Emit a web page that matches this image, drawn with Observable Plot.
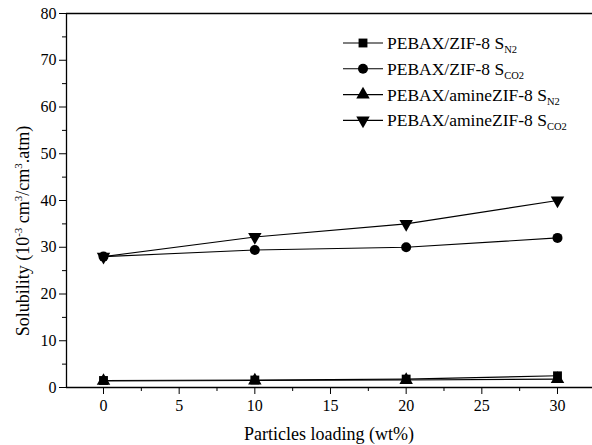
<!DOCTYPE html>
<html>
<head>
<meta charset="utf-8">
<script src="https://cdn.jsdelivr.net/npm/d3@7"></script>
<script src="https://cdn.jsdelivr.net/npm/@observablehq/plot@0.6"></script>
<style>
  body { margin: 0; background: #fff; font-family: "Liberation Serif", serif; }
  svg, svg text, svg tspan { font-family: "Liberation Serif", serif !important; }
</style>
</head>
<body>
<div id="chart"></div>
<script>
const loading = [0, 10, 20, 30];
const zifN2 = [1.5, 1.6, 1.8, 2.5];
const zifCO2 = [28, 29.4, 30, 32];
const amineN2 = [1.4, 1.5, 1.6, 1.8];
const amineCO2 = [28, 32.2, 35, 40];
const seriesNames = ["PEBAX/ZIF-8 S|N2", "PEBAX/ZIF-8 S|CO2", "PEBAX/amineZIF-8 S|N2", "PEBAX/amineZIF-8 S|CO2"];
const symbols = ["square", "circle", "triangle", "triangle"];
const rotations = [0, 0, 0, 180];
const xMajor = [0, 5, 10, 15, 20, 25, 30];
const xMinor = [2.5, 7.5, 12.5, 17.5, 22.5, 27.5];
const yMajor = [0, 10, 20, 30, 40, 50, 60, 70, 80];
const yMinor = [5, 15, 25, 35, 45, 55, 65, 75];
const xDomain = [-2.445, 32.313];
const yDomain = [0, 80];
const xTitle = "Particles loading (wt%)";
// y title pieces: [text, isSuperscript]
const yTitleParts = [["Solubility (10", false], ["-3", true], [" cm", false], ["3", true], ["/cm", false], ["3", true], [".atm)", false]];

const allValues = [zifN2, zifCO2, amineN2, amineCO2];
const data = [];
allValues.forEach((vals, si) => {
  vals.forEach((v, i) => data.push({x: loading[i], y: v, s: si, symbol: symbols[si], rotate: rotations[si]}));
});

const ff = "Liberation Serif, serif";

const plot = Plot.plot({
  width: 592,
  height: 445,
  marginLeft: 66,
  marginRight: 0,
  marginTop: 13,
  marginBottom: 58,
  style: {background: "white", color: "black", fontFamily: ff},
  x: {domain: xDomain},
  y: {domain: yDomain},
  symbol: {type: "identity"},
  marks: [
    Plot.ruleX([xDomain[0]], {stroke: "black", strokeWidth: 1.3}),
    Plot.ruleY([yDomain[0]], {stroke: "black", strokeWidth: 1.3}),
    Plot.ruleY([yDomain[1]], {stroke: "black", strokeWidth: 1.3}),
    Plot.axisX({ticks: xMajor, tickSize: 7, tickPadding: 5, fontSize: 16, tickFormat: d => d, label: null}),
    Plot.axisX({ticks: xMinor, tickSize: 4, text: null, label: null}),
    Plot.axisY({ticks: yMajor, tickSize: 7, tickPadding: 3, fontSize: 16, tickFormat: d => d, label: null}),
    Plot.axisY({ticks: yMinor, tickSize: 4, text: null, label: null}),
    Plot.line(data, {x: "x", y: "y", z: "s", stroke: "black", strokeWidth: 1.1}),
    Plot.dot(data, {x: "x", y: "y", symbol: "symbol", rotate: "rotate", r: 5, fill: "black", stroke: "none"})
  ]
});

const svg = d3.select(plot);
svg.attr("font-family", ff);
// axis titles
svg.append("text").attr("x", 329).attr("y", 440).attr("text-anchor", "middle")
  .attr("font-size", 18).attr("fill", "black").text(xTitle);
const yt = svg.append("text").attr("transform", "translate(23,231) rotate(-90)").attr("dy", "0.35em").attr("text-anchor", "middle")
  .attr("font-size", 18).attr("fill", "black");
let shifted = false;
yTitleParts.forEach(([txt, sup]) => {
  const ts = yt.append("tspan").text(txt);
  if (sup) { ts.attr("font-size", 11).attr("dy", -7); shifted = true; }
  else if (shifted) { ts.attr("dy", 7); shifted = false; }
});

const leg = svg.append("g").attr("font-size", 17.5).attr("fill", "black").attr("text-anchor", "start");
seriesNames.forEach((name, i) => {
  const y = 43 + i * 25.8;
  const g = leg.append("g").attr("transform", `translate(0,${y})`);
  g.append("line").attr("x1", 343).attr("x2", 383).attr("y1", 0).attr("y2", 0).attr("stroke", "black").attr("stroke-width", 1.1);
  const type = symbols[i] === "square" ? d3.symbolSquare : symbols[i] === "circle" ? d3.symbolCircle : d3.symbolTriangle;
  g.append("path").attr("d", d3.symbol(type, Math.PI * 25)()).attr("transform", `translate(363,0) rotate(${rotations[i]})`).attr("fill", "black");
  const [main, sub] = name.split("|");
  const t = g.append("text").attr("x", 387).attr("y", 6);
  t.append("tspan").text(main);
  t.append("tspan").attr("dy", 4).attr("font-size", 10.5).text(sub);
});

svg.selectAll("text, tspan").style("font-family", ff);

document.getElementById("chart").appendChild(plot);
</script>
</body>
</html>
